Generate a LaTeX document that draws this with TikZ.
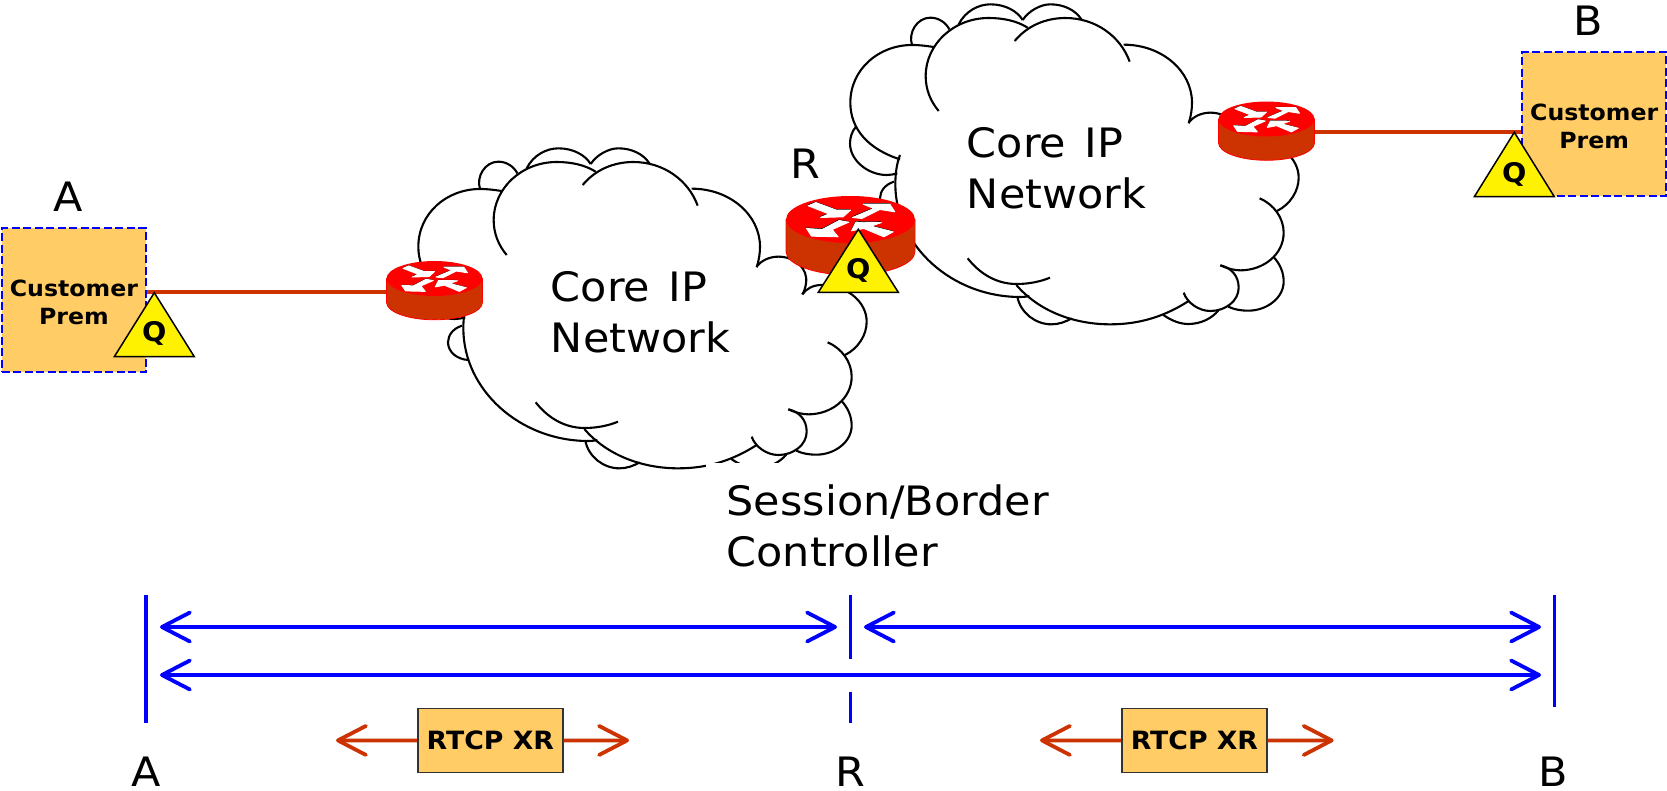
\documentclass[tikz,border=0pt]{standalone}
\usepackage{fontspec}
\setmainfont[FakeStretch=1.06]{DejaVu Sans}
\usetikzlibrary{arrows.meta}
\definecolor{prem}{HTML}{FFCC66}
\definecolor{rust}{HTML}{CC3300}
\definecolor{rblue}{HTML}{0000FF}
\newcommand{\arrowsA}{(-127,-41)--(-104,-51)--(-42,-28)--(0,-28)--(-22,-8)--(-90,-6)--(-65,-17)--cycle}
\newcommand{\arrowsB}{(6,-6)--(70,-33)--(38,-46)--(118,-46)--(133,-23)--(88,-30)--(34,-3)--cycle}
\newcommand{\arrowsC}{(-34,3)--(-5,8)--(-55,30)--(-37,52)--(-117,50)--(-132,27)--(-85,30)--cycle}
\newcommand{\arrowsD}{(3,34)--(16,8)--(93,9)--(62,20)--(128,37)--(100,52)--(40,27)--cycle}
\tikzset{
  router/.pic={
    \path[fill=rust,draw=red,line width=.8pt] (-64.5,0) -- (-64.5,32) arc[start angle=180,end angle=360,x radius=64.5pt,y radius=23.5pt] -- (64.5,0) -- cycle;
    \path[fill=red] (0,0) ellipse[x radius=64.5pt,y radius=23.5pt];
    \begin{scope}[scale=.33333]
      \begin{scope}[shift={(-1,-3)}]
        \fill[black] \arrowsA; \fill[black] \arrowsB; \fill[black] \arrowsC; \fill[black] \arrowsD;
      \end{scope}
      \begin{scope}[white,line width=.9pt,line join=round]
        \filldraw \arrowsA; \filldraw \arrowsB; \filldraw \arrowsC; \filldraw \arrowsD;
      \end{scope}
    \end{scope}
  },
  cloud/.pic={
    \begin{scope}[scale=.33333,line width=2.1pt,draw=black]
      % small bumps behind
      \draw (240,147) .. controls (228,110) and (255,65) .. (295,65) .. controls (320,65) and (342,80) .. (352,100);
      \draw (380,85) .. controls (400,45) and (440,25) .. (475,25) .. controls (520,25) and (555,45) .. (572,72);
      \draw (572,72) .. controls (590,45) and (625,25) .. (655,25) .. controls (695,25) and (730,42) .. (748,70);
      \draw (72,392) .. controls (60,405) and (54,425) .. (54,442) .. controls (54,495) and (110,537) .. (164,537) .. controls (175,537) and (186,535) .. (196,532);
      \draw (186,557) .. controls (160,565) and (144,585) .. (144,607) .. controls (144,635) and (170,658) .. (205,660);
      \draw (556,902) .. controls (565,950) and (610,985) .. (658,985) .. controls (680,985) and (700,978) .. (719,967);
      \draw (994,957) .. controls (1020,975) and (1045,984) .. (1069,984) .. controls (1105,984) and (1140,968) .. (1160,942);
      \draw (1324,782) .. controls (1345,805) and (1355,830) .. (1355,857) .. controls (1355,905) and (1305,944) .. (1249,944) .. controls (1225,944) and (1205,940) .. (1189,932);
      % main lobes
      \draw (204,490) .. controls (110,460) and (55,400) .. (55,320) .. controls (55,220) and (140,147) .. (240,147) .. controls (265,147) and (285,150) .. (305,153);
      \draw (320,345) .. controls (295,315) and (281,280) .. (281,240) .. controls (281,145) and (365,66) .. (470,66) .. controls (515,66) and (555,75) .. (587,95);
      \draw (548,135) .. controls (585,90) and (640,66) .. (700,66) .. controls (790,66) and (865,120) .. (893,197);
      \draw (875,146) .. controls (990,146) and (1080,225) .. (1080,320) .. controls (1080,340) and (1077,360) .. (1070,382);
      \draw (1070,380) .. controls (1085,360) and (1110,350) .. (1135,350) .. controls (1185,350) and (1225,385) .. (1218,430) .. controls (1216,445) and (1212,455) .. (1207,463);
      \draw (1207,463) .. controls (1220,445) and (1240,435) .. (1265,435) .. controls (1340,435) and (1400,485) .. (1400,545) .. controls (1400,585) and (1375,625) .. (1335,645);
      \draw (1283,607) .. controls (1325,625) and (1355,665) .. (1355,710) .. controls (1355,775) and (1295,823) .. (1225,823) .. controls (1205,823) and (1185,817) .. (1165,808);
      \draw (1165,808) .. controls (1198,815) and (1220,840) .. (1220,875) .. controls (1220,915) and (1180,945) .. (1135,945) .. controls (1100,945) and (1065,920) .. (1055,890);
      \draw (1070,915) .. controls (1000,960) and (925,985) .. (835,985) .. controls (725,985) and (620,945) .. (553,867);
      \draw (204,477) .. controls (195,500) and (190,530) .. (190,565) .. controls (190,750) and (360,903) .. (565,903) .. controls (575,903) and (583,902) .. (592,900);
      \draw (407,787) .. controls (445,835) and (495,864) .. (554,864) .. controls (590,864) and (625,857) .. (654,845);
    \end{scope}
  },
  lbl/.style={inner sep=0pt,font=\fontsize{40.5}{50.6}\selectfont,align=left,anchor=base west},
  big/.style={inner sep=0pt,font=\fontsize{40.5}{48}\selectfont,anchor=base},
  premise/.style={draw=rblue,fill=prem,dashed,dash pattern=on 8pt off 3.5pt,line width=1.8pt,minimum width=144pt,minimum height=144pt,inner sep=0pt,align=center,font=\bfseries\fontsize{22.3}{28.3}\selectfont},
  qtri/.style={draw=black,fill=yellow,line width=1.5pt,line join=miter},
  qtext/.style={inner sep=0pt,font=\bfseries\fontsize{27}{30}\selectfont},
  link/.style={draw=rust,line width=3.8pt},
  bluearr/.style={draw=rblue,line width=3.8pt,{Straight Barb[length=28pt,width=29pt,round]}-{Straight Barb[length=28pt,width=29pt,round]}},
  rustarr/.style={draw=rust,line width=3.8pt,-{Straight Barb[length=28pt,width=29pt,round]}},
  tick/.style={draw=rblue,line width=3.6pt},
  xrbox/.style={draw=black!80,fill=prem,line width=1.4pt,minimum width=145pt,minimum height=64.5pt,inner sep=0pt,font=\bfseries\fontsize{25.2}{28}\selectfont},
}
\begin{document}
\begin{tikzpicture}[x=1pt,y=-1pt]
\useasboundingbox (0,0) rectangle (1667,790);
% clouds
\pic at (400,140) {cloud};
\pic at (832,-4) {cloud};
\fill[white] (706,462.7) rectangle (1060,575);
\node[lbl] (core1) at (550.7,352.3) {Core\hspace{4.5pt} IP\\Network};
\node[lbl] (core2) at (966.7,208.3) {Core\hspace{4.5pt} IP\\Network};
\node[lbl] (sbc) at (726.5,566) {Session/Border\\Controller};
% customer prems
\node[premise] (custA) at (73.9,300.3) {\rule{0pt}{21pt}Customer\\Prem};
\node[premise] (custB) at (1594.2,124.2) {\rule{0pt}{21pt}Customer\\Prem};
% routers & links
\coordinate (r1w) at (386.5,292.3);
\coordinate (r3e) at (1315,132.3);
\draw[link] (custA.east |- r1w) -- (r1w);
\draw[link] (r3e) -- (custB.west |- r3e);
\pic[scale=.744] at (434.5,278.5) {router};
\pic at (850.5,219.5) {router};
\pic[scale=.744] at (1266.5,119) {router};
% Q triangles
\draw[qtri] (154.3,292.7) -- (194.3,356.7) -- (114.3,356.7) -- cycle;
\node[qtext] (q1) at (154.3,333.5) {Q};
\draw[qtri] (858.3,229.3) -- (898.3,292.3) -- (818.3,292.3) -- cycle;
\node[qtext] (q2) at (858.3,270.5) {Q};
\draw[qtri] (1514.3,132.3) -- (1554.3,196.7) -- (1474.3,196.7) -- cycle;
\node[qtext] (q3) at (1514.3,174) {Q};
% top labels
\node[big] (la) at (68,211) {A};
\node[big] (lr) at (805,178) {R};
\node[big] (lb) at (1588,35) {B};
% bottom ticks
\coordinate (a1) at (146,595); \coordinate (a2) at (146,723);
\coordinate (r1) at (850.5,595); \coordinate (r2) at (850.5,659);
\coordinate (r3) at (850.5,691.7); \coordinate (r4) at (850.5,723);
\coordinate (b1) at (1554.5,595); \coordinate (b2) at (1554.5,706.7);
\draw[tick] (a1) -- (a2);
\draw[tick] (r1) -- (r2);
\draw[tick] (r3) -- (r4);
\draw[tick] (b1) -- (b2);
% blue arrows
\coordinate (p1) at (160,627); \coordinate (p2) at (837,627);
\coordinate (p3) at (864,627); \coordinate (p4) at (1541,627);
\coordinate (p5) at (160,675); \coordinate (p6) at (1541,675);
\draw[bluearr] (p1) -- (p2);
\draw[bluearr] (p3) -- (p4);
\draw[bluearr] (p5) -- (p6);
% RTCP XR
\node[xrbox] (x1) at (490.3,740.5) {RTCP XR};
\node[xrbox] (x2) at (1194.4,740.5) {RTCP XR};
\coordinate (x1l) at (336,740.4); \coordinate (x1r) at (629,740.4);
\coordinate (x2l) at (1040,740.4); \coordinate (x2r) at (1333.6,740.4);
\draw[rustarr] (x1.west) -- (x1l);
\draw[rustarr] (x1.east) -- (x1r);
\draw[rustarr] (x2.west) -- (x2l);
\draw[rustarr] (x2.east) -- (x2r);
% bottom labels
\node[big] (ba) at (146,786) {A};
\node[big] (br) at (850,786) {R};
\node[big] (bb) at (1553,786) {B};
\end{tikzpicture}
\end{document}
